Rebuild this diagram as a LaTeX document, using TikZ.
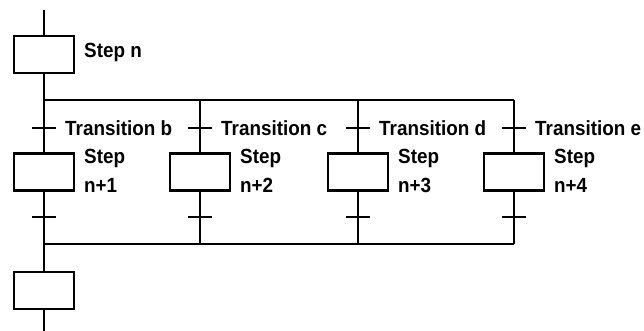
\documentclass[tikz,border=0pt]{standalone}
\usepackage{fontspec}
\setmainfont{Liberation Sans}[FakeStretch=0.92]
\begin{document}
\begin{tikzpicture}[x=1pt,y=-1pt,line width=2.4pt,
  stepbox/.style={draw,minimum width=60pt,minimum height=37pt,inner sep=0pt},
  tickmark/.style={minimum width=24pt,minimum height=0pt,inner sep=0pt,outer sep=0pt},
  lbl/.style={anchor=base west,inner sep=0pt,font=\fontsize{20.5}{28}\selectfont\bfseries}]
\useasboundingbox (0,0) rectangle (644,331);
% main column
\coordinate (top) at (44,10);
\node[stepbox] (sn) at (44,54.5) {};
\node[lbl] (lsn) at (83,58) {Step n};
% divergence / convergence points
\coordinate (da) at (44,100);
\coordinate (db) at (200,100);
\coordinate (dc) at (358,100);
\coordinate (dd) at (514,100);
\coordinate (ca) at (44,244);
\coordinate (cb) at (200,244);
\coordinate (cc) at (358,244);
\coordinate (cd) at (514,244);
% branches
\foreach \n/\x/\t/\s in {a/44/b/1,b/200/c/2,c/358/d/3,d/514/e/4}{
  \node[tickmark] (ta\n) at (\x,128) {};
  \node[stepbox] (s\n) at (\x,172) {};
  \node[tickmark] (tb\n) at (\x,217) {};
  \node[lbl] (lt\n) at (\x+20,136) {Transition \t};
  \node[lbl] (ls\n) at (\x+39,164) {Step};
  \node[lbl] (ln\n) at (\x+39,192) {n+\s};
  \draw (d\n) -- (s\n.north);
  \draw (s\n.south) -- (c\n);
  \draw (ta\n.west) -- (ta\n.east);
  \draw (tb\n.west) -- (tb\n.east);
}
\node[stepbox] (sl) at (44,290.5) {};
\coordinate (bot) at (44,331);
\draw (top) -- (sn.north);
\draw (sn.south) -- (da);
\draw (da) -- (dd);
\draw (ca) -- (cd);
\draw (ca) -- (sl.north);
\draw (sl.south) -- (bot);
\end{tikzpicture}
\end{document}
